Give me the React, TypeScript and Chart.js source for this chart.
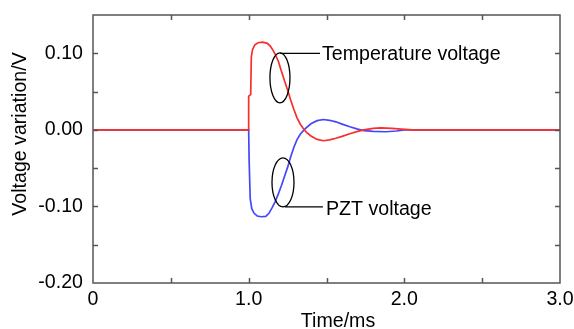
import React, { useEffect, useRef } from 'react';
import { Chart, registerables } from 'chart.js';

Chart.register(...registerables);

// Temperature voltage (red)
const tempTime = [0, 1.0, 1.0, 1.013, 1.017, 1.025, 1.04, 1.06, 1.09, 1.12, 1.14, 1.15, 1.17, 1.19, 1.21, 1.23, 1.25, 1.27, 1.29, 1.31, 1.33, 1.35, 1.37, 1.40, 1.44, 1.48, 1.52, 1.56, 1.60, 1.65, 1.70, 1.74, 1.80, 1.85, 1.92, 1.98, 2.05, 3.0];
const tempVolt = [0, 0, 0.044, 0.046, 0.095, 0.105, 0.111, 0.1138, 0.1145, 0.113, 0.109, 0.106, 0.099, 0.090, 0.077, 0.064, 0.052, 0.039, 0.027, 0.016, 0.008, 0.002, -0.003, -0.008, -0.0125, -0.0142, -0.013, -0.011, -0.0085, -0.005, -0.002, 0.0, 0.002, 0.0025, 0.002, 0.001, 0, 0];

// PZT voltage (blue)
const pztTime = [0, 1.0, 1.003, 1.01, 1.02, 1.035, 1.055, 1.08, 1.11, 1.13, 1.15, 1.17, 1.19, 1.21, 1.23, 1.25, 1.27, 1.29, 1.31, 1.33, 1.36, 1.40, 1.44, 1.48, 1.52, 1.56, 1.60, 1.65, 1.70, 1.74, 1.80, 1.88, 1.95, 2.0, 3.0];
const pztVolt = [0, 0, -0.04, -0.09, -0.103, -0.109, -0.1125, -0.1135, -0.113, -0.109, -0.102, -0.094, -0.084, -0.073, -0.061, -0.049, -0.035, -0.023, -0.013, -0.006, 0.001, 0.008, 0.012, 0.0135, 0.0125, 0.0105, 0.0075, 0.004, 0.001, -0.001, -0.002, -0.0025, -0.0015, 0, 0];

const xRange = [0, 3];
const yRange = [-0.2, 0.15];
const xMajorStep = 1;
const yMajorStep = 0.1;
const xMinorStep = 0.5;
const yMinorStep = 0.05;

const xTitle = 'Time/ms';
const yTitle = 'Voltage variation/V';
const tempLabel = 'Temperature voltage';
const pztLabel = 'PZT voltage';

// annotation anchors in data units
const tempEllipse = { x: 1.201, y: 0.068 };
const pztEllipse = { x: 1.2205, y: -0.0686 };
const tempLeader = { x0: 1.201, x1: 1.458, y: 0.1, tx: 1.471 };
const pztLeader = { x0: 1.233, x1: 1.477, y: -0.1007, tx: 1.497 };

const FONT = '"Liberation Sans", Arial, sans-serif';
const FS = 19.6;

export default function App() {
  const ref = useRef<HTMLCanvasElement | null>(null);

  useEffect(() => {
    if (!ref.current) return;
    const decor = {
      id: 'decor',
      afterDraw(chart: any) {
        const { ctx, chartArea } = chart;
        const xs = chart.scales.x;
        const ys = chart.scales.y;
        const { left, right, top, bottom } = chartArea;
        ctx.save();
        ctx.strokeStyle = '#555555';
        ctx.lineWidth = 1.5;
        ctx.strokeRect(left, top, right - left, bottom - top);
        ctx.beginPath();
        const tl = 5;
        for (let v = xRange[0] + xMinorStep; v < xRange[1] - 1e-9; v += xMinorStep) {
          const px = Math.round(xs.getPixelForValue(v)) + 0.5;
          ctx.moveTo(px, bottom); ctx.lineTo(px, bottom - tl);
          ctx.moveTo(px, top); ctx.lineTo(px, top + tl);
        }
        for (let v = yRange[0] + yMinorStep; v < yRange[1] - 1e-9; v += yMinorStep) {
          const py = Math.round(ys.getPixelForValue(v)) + 0.5;
          ctx.moveTo(left, py); ctx.lineTo(left + tl, py);
          ctx.moveTo(right, py); ctx.lineTo(right - tl, py);
        }
        ctx.stroke();

        // annotations
        ctx.strokeStyle = '#000000';
        ctx.lineWidth = 1.3;
        const e1x = xs.getPixelForValue(tempEllipse.x), e1y = ys.getPixelForValue(tempEllipse.y);
        ctx.beginPath(); ctx.ellipse(e1x, e1y, 10, 25, 0, 0, Math.PI * 2); ctx.stroke();
        const e2x = xs.getPixelForValue(pztEllipse.x), e2y = ys.getPixelForValue(pztEllipse.y);
        ctx.beginPath(); ctx.ellipse(e2x, e2y, 11, 24.5, 0, 0, Math.PI * 2); ctx.stroke();
        ctx.beginPath();
        const l1y = ys.getPixelForValue(tempLeader.y);
        ctx.moveTo(xs.getPixelForValue(tempLeader.x0), l1y); ctx.lineTo(xs.getPixelForValue(tempLeader.x1), l1y);
        const l2y = ys.getPixelForValue(pztLeader.y);
        ctx.moveTo(xs.getPixelForValue(pztLeader.x0), l2y); ctx.lineTo(xs.getPixelForValue(pztLeader.x1), l2y);
        ctx.stroke();
        ctx.fillStyle = '#000000';
        ctx.font = `${FS}px ${FONT}`;
        ctx.textAlign = 'left';
        ctx.textBaseline = 'middle';
        ctx.fillText(tempLabel, xs.getPixelForValue(tempLeader.tx), l1y + 1.5);
        ctx.fillText(pztLabel, xs.getPixelForValue(pztLeader.tx), l2y + 2.5);

        // axis titles
        ctx.textAlign = 'center';
        ctx.textBaseline = 'alphabetic';
        ctx.fillText(xTitle, 338, 327);
        ctx.translate(26, 134);
        ctx.rotate(-Math.PI / 2);
        ctx.fillText(yTitle, 0, 0);
        ctx.restore();
      },
    };

    const chart = new Chart(ref.current, {
      type: 'line',
      data: {
        datasets: [
          {
            label: tempLabel,
            data: tempTime.map((t, i) => ({ x: t, y: tempVolt[i] })),
            borderColor: 'rgb(250,45,45)',
            borderWidth: 1.7,
            pointRadius: 0,
            tension: 0,
            order: 0,
          },
          {
            label: pztLabel,
            data: pztTime.map((t, i) => ({ x: t, y: pztVolt[i] })),
            borderColor: 'rgb(70,70,250)',
            borderWidth: 1.7,
            pointRadius: 0,
            tension: 0,
            order: 1,
          },
        ],
      },
      options: {
        animation: false,
        responsive: false,
        maintainAspectRatio: false,
        layout: { padding: { left: 0, right: 14, top: 15, bottom: 0 } },
        plugins: { legend: { display: false }, tooltip: { enabled: false } },
        scales: {
          x: {
            type: 'linear',
            min: xRange[0],
            max: xRange[1],
            grid: { display: false, drawTicks: false },
            border: { display: false },
            afterFit: (s: any) => {
              s.height = 46;
              s.paddingLeft = 0; s.paddingRight = 0; s.paddingTop = 0; s.paddingBottom = 0;
            },
            ticks: {
              stepSize: xMajorStep,
              padding: 5,
              color: '#000',
              font: { family: FONT, size: FS },
              maxRotation: 0,
              callback: (v: any) => (Number(v) === 0 ? '0' : Number(v).toFixed(1)),
            },
          },
          y: {
            type: 'linear',
            min: yRange[0],
            max: yRange[1],
            grid: { display: false, drawTicks: false },
            border: { display: false },
            afterFit: (s: any) => {
              s.width = 93;
              s.paddingLeft = 0; s.paddingRight = 0; s.paddingTop = 0; s.paddingBottom = 0;
            },
            ticks: {
              stepSize: yMajorStep,
              includeBounds: false,
              padding: 10,
              color: '#000',
              font: { family: FONT, size: FS },
              callback: (v: any) => Number(v).toFixed(2),
            },
          },
        },
      },
      plugins: [decor],
    });
    return () => chart.destroy();
  }, []);

  return (
    <div style={{ position: 'fixed', left: 0, top: 0, width: 574, height: 329, background: '#fff' }}>
      <canvas ref={ref} width={574} height={329} style={{ display: 'block' }} />
    </div>
  );
}
